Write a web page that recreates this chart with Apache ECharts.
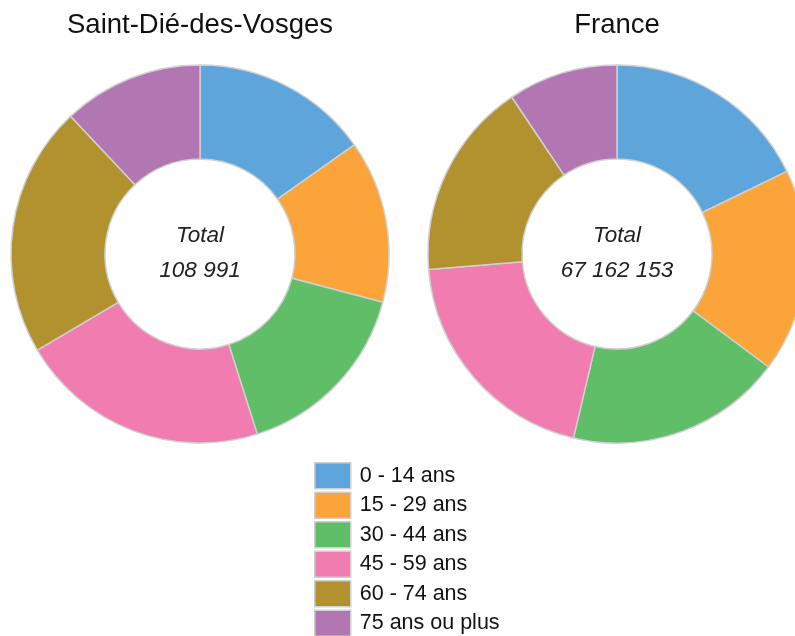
<!DOCTYPE html>
<html><head><meta charset="utf-8">
<script src="https://cdn.jsdelivr.net/npm/echarts@6/dist/echarts.min.js"></script>
<style>html,body{margin:0;padding:0;background:#fff}#c{width:795px;height:636px}</style>
</head><body><div id="c"></div>
<script>
var categories = ['0 - 14 ans','15 - 29 ans','30 - 44 ans','45 - 59 ans','60 - 74 ans','75 ans ou plus'];
var colors = ['#5DA5DA','#FAA43A','#60BD68','#F17CB0','#B2912F','#B276B2'];
var titles = ['Saint-Dié-des-Vosges','France'];
var valuesSaintDie = [16567, 15150, 17439, 23324, 23432, 13079];
var valuesFrance = [11954863, 11686215, 12424998, 13432431, 11350404, 6313242];

function fmt(n){ return String(n).replace(/\B(?=(\d{3})+(?!\d))/g, ' '); }
function sum(a){ return a.reduce(function(s,v){return s+v;},0); }

var centers = [[200,254],[617,254]];
var allVals = [valuesSaintDie, valuesFrance];
var font = '"Liberation Sans", Arial, sans-serif';

var chart = echarts.init(document.getElementById('c'));
var series = allVals.map(function(vals, i){
  return {
    type:'pie', name: titles[i], center: centers[i], radius:[95,189],
    startAngle:90, clockwise:true, silent:true, animation:false,
    label:{show:false}, labelLine:{show:false},
    itemStyle:{borderColor:'#d0d0d0', borderWidth:1.5},
    data: categories.map(function(c,j){ return {name:c, value:vals[j], itemStyle:{color:colors[j]}}; })
  };
});
var graphics = [];
allVals.forEach(function(vals,i){
  graphics.push({type:'text', x:centers[i][0], y:centers[i][1]-18, style:{text:'Total', font:'italic 22.5px '+font, fill:'#222', align:'center', verticalAlign:'middle'}});
  graphics.push({type:'text', x:centers[i][0], y:centers[i][1]+17, style:{text:fmt(sum(vals)), font:'italic 22.5px '+font, fill:'#222', align:'center', verticalAlign:'middle'}});
});
chart.setOption({
  animation:false,
  title: titles.map(function(t,i){ return {text:t, left:centers[i][0], top:11, padding:0, textAlign:'center', textStyle:{fontFamily:font, fontSize:27.5, fontWeight:'normal', color:'#111'}}; }),
  legend:{orient:'vertical', left:314, top:462, height:260, padding:0, itemWidth:36, itemHeight:26, itemGap:2, icon:'rect',
    data:categories, selectedMode:false,
    itemStyle:{borderColor:'#d0d0d0', borderWidth:1.5},
    textStyle:{fontFamily:font, fontSize:21.5, lineHeight:26, color:'#111', padding:[0,0,0,4]}},
  graphic: graphics,
  series: series
});
</script></body></html>
